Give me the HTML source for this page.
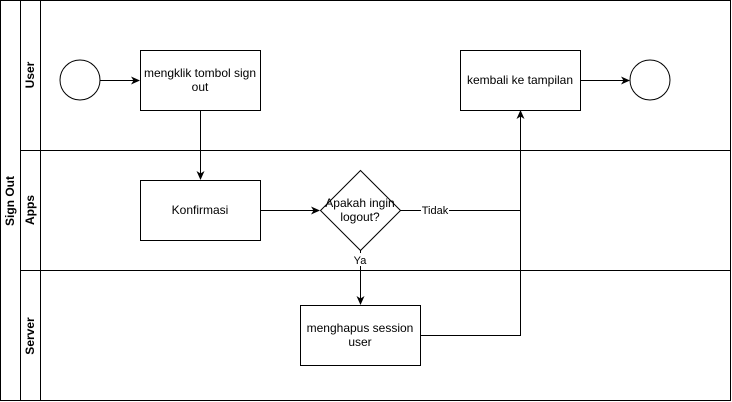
<!DOCTYPE html>
<html><head><style>body{margin:0;background:#fff}svg{display:block}</style></head><body>
<svg width="732" height="402" xmlns="http://www.w3.org/2000/svg" font-family="Liberation Sans, Arial, sans-serif" font-size="12">
<defs><marker id="a" markerWidth="10" markerHeight="10" refX="8" refY="5" orient="auto" markerUnits="userSpaceOnUse"><path d="M0,1 L9,5 L0,9 L2.5,5 Z" fill="#000"/></marker></defs>
<g fill="none" stroke="#000" stroke-width="1">
<rect x="0.5" y="0.5" width="730" height="400"/>
<line x1="20.5" y1="0" x2="20.5" y2="401"/>
<line x1="40.5" y1="0" x2="40.5" y2="401"/>
<line x1="20" y1="150.5" x2="731" y2="150.5"/>
<line x1="20" y1="270.5" x2="731" y2="270.5"/>
<circle cx="80" cy="80" r="20"/>
<circle cx="650" cy="80" r="20"/>
<rect x="140.5" y="50.5" width="120" height="60"/>
<rect x="460.5" y="50.5" width="120" height="60"/>
<rect x="140.5" y="180.5" width="120" height="60"/>
<rect x="300.5" y="305.5" width="120" height="60"/>
<path d="M360.5,170.5 L400.5,210.5 L360.5,250.5 L320.5,210.5 Z"/>
<line x1="100" y1="80.5" x2="139" y2="80.5" marker-end="url(#a)"/>
<line x1="580" y1="80.5" x2="629" y2="80.5" marker-end="url(#a)"/>
<line x1="200.5" y1="110" x2="200.5" y2="179" marker-end="url(#a)"/>
<line x1="260" y1="210.5" x2="319" y2="210.5" marker-end="url(#a)"/>
<line x1="360.5" y1="250" x2="360.5" y2="304" marker-end="url(#a)"/>
<polyline points="400,210.5 520.5,210.5 520.5,111"/>
<polyline points="420,335.5 520.5,335.5 520.5,111" marker-end="url(#a)"/>
</g>
<g font-weight="bold" font-size="12">
<text transform="translate(14,201) rotate(-90)" text-anchor="middle">Sign Out</text>
<text transform="translate(34,75) rotate(-90)" text-anchor="middle">User</text>
<text transform="translate(34,210) rotate(-90)" text-anchor="middle">Apps</text>
<text transform="translate(34,336) rotate(-90)" text-anchor="middle">Server</text>
</g>
<g text-anchor="middle">
<text x="200" y="77">mengklik tombol sign</text><text x="200" y="91">out</text>
<text x="520" y="84">kembali ke tampilan</text>
<text x="200" y="214">Konfirmasi</text>
<text x="360" y="207">Apakah ingin</text><text x="360" y="221">logout?</text>
<text x="360" y="332">menghapus session</text><text x="360" y="346">user</text>
</g>
<rect x="421" y="203" width="28" height="14" fill="#fff"/>
<text x="435" y="214" font-size="11" text-anchor="middle">Tidak</text>
<rect x="352" y="253" width="17" height="13" fill="#fff"/>
<text x="360" y="264" font-size="11" text-anchor="middle">Ya</text>
</svg>
</body></html>
